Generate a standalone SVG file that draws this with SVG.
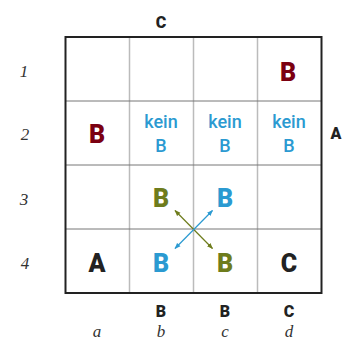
<svg xmlns="http://www.w3.org/2000/svg" width="343" height="343" viewBox="0 0 343 343">
<defs>
<style>
.big{font-family:Roboto,"Liberation Sans",sans-serif;font-weight:900;font-size:25px;text-anchor:middle}
.lbl{font-family:Roboto,"Liberation Sans",sans-serif;font-weight:900;font-size:16px;text-anchor:middle;fill:#222}
.kein{font-family:Roboto,"Liberation Sans",sans-serif;font-weight:500;font-size:18px;text-anchor:middle;fill:#2b9ad1}
.idx{font-family:"Liberation Serif",serif;font-style:italic;font-size:17px;text-anchor:middle;fill:#333}
.red{fill:#7b0011}.blue{fill:#2b9ad1}.olive{fill:#6e7c1c}.blk{fill:#222}
</style>
<marker id="ao" viewBox="0 0 10 10" refX="9" refY="5" markerWidth="5" markerHeight="5" orient="auto-start-reverse"><path d="M0,1 L10,5 L0,9 z" fill="#6e7c1c"/></marker>
<marker id="ab" viewBox="0 0 10 10" refX="9" refY="5" markerWidth="5" markerHeight="5" orient="auto-start-reverse"><path d="M0,1 L10,5 L0,9 z" fill="#2b9ad1"/></marker>
</defs>
<g id="grid">
<g stroke="#bbb" stroke-width="1.5">
<line x1="129.5" y1="37" x2="129.5" y2="293"/>
<line x1="193.5" y1="37" x2="193.5" y2="293"/>
<line x1="257.5" y1="37" x2="257.5" y2="293"/>
</g>
<g stroke="#777" stroke-width="1">
<line x1="65.5" y1="101" x2="321.5" y2="101"/>
<line x1="65.5" y1="165" x2="321.5" y2="165"/>
<line x1="65.5" y1="229" x2="321.5" y2="229"/>
</g>
<rect x="65.5" y="37" width="256" height="256" fill="none" stroke="#222" stroke-width="2"/>
</g>
<g id="labels">
<text class="lbl" x="161" y="28">C</text>
<text class="lbl" x="336" y="139">A</text>
<text class="lbl" x="161" y="317">B</text>
<text class="lbl" x="225" y="317">B</text>
<text class="lbl" x="289" y="317">C</text>
<text class="idx" x="24" y="77">1</text>
<text class="idx" x="25" y="140">2</text>
<text class="idx" x="24" y="205">3</text>
<text class="idx" x="25" y="269">4</text>
<text class="idx" x="97" y="337">a</text>
<text class="idx" x="161" y="337">b</text>
<text class="idx" x="225" y="337">c</text>
<text class="idx" x="289" y="337">d</text>
</g>
<g id="d1"><text class="big red" x="288" y="81">B</text></g>
<g id="a2"><text class="big red" x="97" y="143">B</text></g>
<g id="b2"><text class="kein" x="161" y="128">kein</text><text class="kein" x="161" y="152">B</text></g>
<g id="c2"><text class="kein" x="225" y="128">kein</text><text class="kein" x="225" y="152">B</text></g>
<g id="d2"><text class="kein" x="289" y="128">kein</text><text class="kein" x="289" y="152">B</text></g>
<g id="b3"><text class="big olive" x="161" y="207">B</text></g>
<g id="c3"><text class="big blue" x="225" y="207">B</text></g>
<g id="a4"><text class="big blk" x="97" y="272">A</text></g>
<g id="b4"><text class="big blue" x="161" y="272">B</text></g>
<g id="c4"><text class="big olive" x="225" y="272">B</text></g>
<g id="d4"><text class="big blk" x="289" y="272">C</text></g>
<g id="connectors" fill="none" stroke-width="1.2">
<line x1="175" y1="210.5" x2="212.5" y2="248.5" stroke="#6e7c1c" marker-start="url(#ao)" marker-end="url(#ao)"/>
<line x1="212.5" y1="210.5" x2="175" y2="248.5" stroke="#2b9ad1" marker-start="url(#ab)" marker-end="url(#ab)"/>
</g>
</svg>
